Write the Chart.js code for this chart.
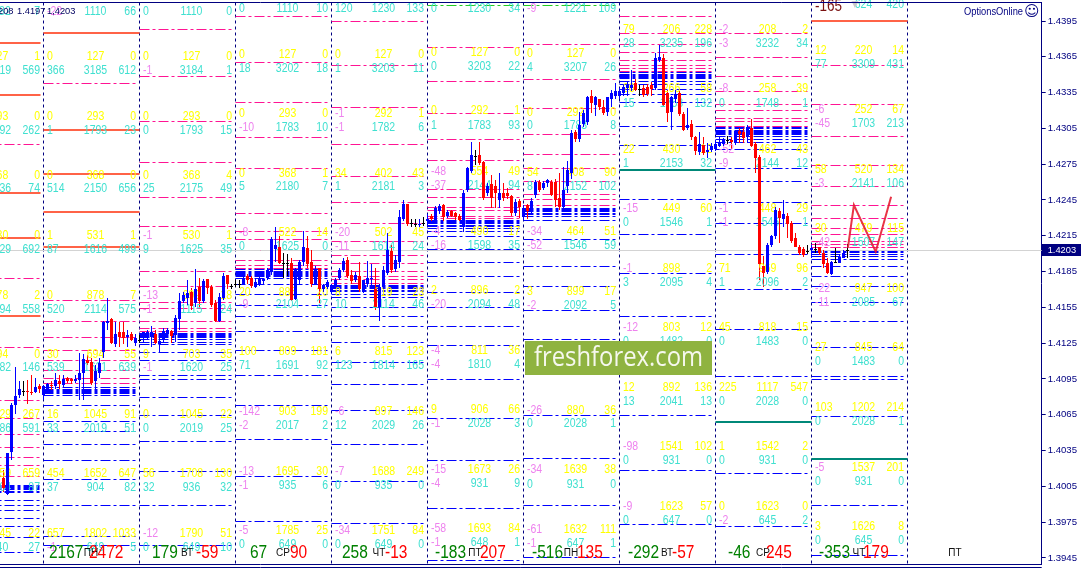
<!DOCTYPE html>
<html><head><meta charset="utf-8">
<style>html,body{margin:0;padding:0;background:#fff}canvas{display:block}</style>
<script src="https://cdn.jsdelivr.net/npm/chart.js@4/dist/chart.umd.min.js"></script>
</head><body><canvas id="c" width="1081" height="568"></canvas>
<script>
// ---------- DATA ----------
const tickPrices=[1.4395,1.4365,1.4335,1.4305,1.4275,1.4245,1.4215,1.4185,1.4155,1.4125,1.4095,1.4065,1.4035,1.4005,1.3975,1.3945];
const lastPrice=1.4203;
const firstCandleHour=-10;
const highs=[1.4019,1.4033,1.4075,1.4105,1.4093,1.4093,1.4094,1.4098,1.4096,1.4091,
1.4090,1.4092,1.4093,1.4100,1.4098,1.4098,1.4097,1.4096,1.4098,1.4117,1.4116,1.4115,1.4113,1.4107,1.4113,1.4144,1.4163,1.4146,1.4143,1.4143,1.4143,1.4136,1.4134,1.4133,
1.4132,1.4134,1.4136,1.4139,1.4136,1.4129,1.4138,1.4138,1.4136,1.4149,1.4167,1.4168,1.4178,1.4171,1.4187,1.4180,1.4179,1.4179,1.4174,1.4161,1.4167,1.4184,1.4182,1.4175,
1.4178,1.4178,1.4182,1.4183,1.4181,1.4180,1.4181,1.4180,1.4188,1.4214,1.4222,1.4215,1.4201,1.4200,1.4196,1.4188,1.4195,1.4219,1.4215,1.4203,1.4190,1.4188,1.4175,1.4178,
1.4175,1.4180,1.4188,1.4196,1.4197,1.4186,1.4185,1.4193,1.4178,1.4194,1.4191,1.4188,1.4175,1.4190,1.4217,1.4207,1.4199,1.4237,1.4245,1.4242,1.4229,1.4229,1.4229,1.4231,
1.4233,1.4233,1.4240,1.4242,1.4242,1.4237,1.4237,1.4235,1.4233,1.4253,1.4273,1.4294,1.4287,1.4294,1.4278,1.4259,1.4266,1.4262,1.4268,1.4259,1.4255,1.4249,1.4246,1.4246,
1.4241,1.4242,1.4247,1.4262,1.4262,1.4261,1.4263,1.4262,1.4263,1.4268,1.4273,1.4278,1.4304,1.4304,1.4319,1.4320,1.4332,1.4337,1.4332,1.4330,1.4329,1.4331,1.4337,1.4343,
1.4339,1.4341,1.4344,1.4354,1.4346,1.4341,1.4341,1.4342,1.4344,1.4368,1.4375,1.4367,1.4337,1.4332,1.4337,1.4336,1.4319,1.4322,1.4312,1.4299,1.4302,1.4298,1.4293,1.4293,
1.4295,1.4298,1.4297,1.4299,1.4298,1.4304,1.4305,1.4305,1.4308,1.4313,1.4294,1.4283,1.4198,1.4209,1.4216,1.4239,1.4238,1.4245,1.4234,1.4227,1.4217,1.4207,1.4206,1.4207,
1.4207,1.4209,1.4206,1.4203,1.4196,1.4194,1.4205,1.4199,1.4203,1.4208];
const lows=[1.4000,1.3998,1.4027,1.4066,1.4079,1.4081,1.4074,1.4082,1.4083,1.4083,
1.4077,1.4084,1.4086,1.4087,1.4087,1.4088,1.4092,1.4091,1.4092,1.4077,1.4077,1.4107,1.4090,1.4084,1.4096,1.4113,1.4136,1.4124,1.4122,1.4122,1.4124,1.4122,1.4127,1.4123,
1.4125,1.4126,1.4128,1.4122,1.4124,1.4118,1.4126,1.4131,1.4125,1.4126,1.4136,1.4159,1.4157,1.4153,1.4155,1.4155,1.4159,1.4166,1.4155,1.4143,1.4143,1.4161,1.4170,1.4170,
1.4172,1.4171,1.4174,1.4175,1.4171,1.4171,1.4173,1.4175,1.4178,1.4182,1.4193,1.4191,1.4180,1.4181,1.4160,1.4161,1.4174,1.4190,1.4188,1.4172,1.4174,1.4159,1.4168,1.4170,
1.4166,1.4170,1.4178,1.4185,1.4180,1.4175,1.4176,1.4168,1.4167,1.4172,1.4170,1.4153,1.4144,1.4170,1.4182,1.4184,1.4185,1.4188,1.4227,1.4223,1.4222,1.4222,1.4222,1.4223,
1.4223,1.4227,1.4227,1.4233,1.4227,1.4230,1.4231,1.4228,1.4227,1.4218,1.4252,1.4268,1.4274,1.4274,1.4245,1.4248,1.4238,1.4238,1.4238,1.4244,1.4246,1.4232,1.4232,1.4230,
1.4228,1.4229,1.4234,1.4247,1.4252,1.4253,1.4256,1.4248,1.4239,1.4237,1.4235,1.4251,1.4263,1.4294,1.4294,1.4306,1.4308,1.4318,1.4315,1.4320,1.4316,1.4315,1.4323,1.4330,
1.4330,1.4332,1.4332,1.4336,1.4336,1.4332,1.4331,1.4332,1.4332,1.4337,1.4361,1.4324,1.4310,1.4304,1.4326,1.4315,1.4303,1.4304,1.4295,1.4283,1.4283,1.4283,1.4280,1.4285,
1.4286,1.4289,1.4290,1.4292,1.4288,1.4291,1.4293,1.4293,1.4293,1.4289,1.4268,1.4178,1.4172,1.4183,1.4206,1.4212,1.4209,1.4222,1.4213,1.4209,1.4206,1.4199,1.4197,1.4200,
1.4196,1.4201,1.4199,1.4188,1.4183,1.4182,1.4192,1.4192,1.4196,1.4196];
const opens=[1.4012,1.3999,1.4034,1.4073,1.4082,1.4085,1.4085,1.4084,1.4084,1.4089,
1.4082,1.4087,1.4090,1.4089,1.4093,1.4090,1.4096,1.4095,1.4093,1.4094,1.4100,1.4111,1.4109,1.4093,1.4100,1.4118,1.4142,1.4145,1.4124,1.4134,1.4134,1.4130,1.4133,1.4125,
1.4128,1.4129,1.4130,1.4130,1.4133,1.4124,1.4128,1.4133,1.4135,1.4132,1.4145,1.4160,1.4163,1.4168,1.4159,1.4172,1.4160,1.4179,1.4172,1.4159,1.4144,1.4163,1.4182,1.4173,
1.4175,1.4175,1.4175,1.4181,1.4180,1.4172,1.4174,1.4177,1.4180,1.4185,1.4204,1.4206,1.4192,1.4192,1.4192,1.4162,1.4178,1.4193,1.4205,1.4193,1.4175,1.4188,1.4170,1.4172,
1.4168,1.4173,1.4180,1.4186,1.4195,1.4182,1.4178,1.4181,1.4168,1.4175,1.4179,1.4170,1.4155,1.4172,1.4184,1.4202,1.4187,1.4193,1.4229,1.4242,1.4226,1.4225,1.4224,1.4226,
1.4227,1.4232,1.4228,1.4236,1.4241,1.4232,1.4236,1.4234,1.4232,1.4222,1.4253,1.4269,1.4282,1.4283,1.4277,1.4251,1.4258,1.4257,1.4245,1.4251,1.4251,1.4248,1.4234,1.4244,
1.4231,1.4241,1.4237,1.4249,1.4260,1.4255,1.4259,1.4260,1.4260,1.4247,1.4239,1.4257,1.4268,1.4302,1.4296,1.4309,1.4310,1.4332,1.4325,1.4330,1.4323,1.4319,1.4330,1.4332,
1.4332,1.4335,1.4339,1.4339,1.4343,1.4338,1.4339,1.4340,1.4341,1.4339,1.4362,1.4364,1.4335,1.4319,1.4330,1.4335,1.4317,1.4305,1.4309,1.4298,1.4285,1.4291,1.4285,1.4287,
1.4288,1.4290,1.4292,1.4295,1.4295,1.4293,1.4303,1.4302,1.4298,1.4305,1.4292,1.4281,1.4190,1.4185,1.4207,1.4215,1.4236,1.4229,1.4232,1.4226,1.4213,1.4206,1.4204,1.4202,
1.4203,1.4204,1.4206,1.4201,1.4192,1.4183,1.4193,1.4192,1.4196,1.4203];
const closes=[1.4004,1.4033,1.4073,1.4081,1.4087,1.4085,1.4084,1.4083,1.4088,1.4087,
1.4089,1.4091,1.4089,1.4094,1.4091,1.4095,1.4093,1.4093,1.4095,1.4100,1.4112,1.4108,1.4092,1.4102,1.4108,1.4143,1.4144,1.4125,1.4133,1.4130,1.4129,1.4132,1.4128,1.4129,
1.4128,1.4134,1.4134,1.4134,1.4125,1.4127,1.4135,1.4136,1.4131,1.4146,1.4160,1.4165,1.4167,1.4156,1.4170,1.4160,1.4177,1.4171,1.4157,1.4144,1.4164,1.4181,1.4175,1.4173,
1.4175,1.4175,1.4180,1.4178,1.4173,1.4176,1.4180,1.4179,1.4186,1.4212,1.4207,1.4192,1.4192,1.4192,1.4161,1.4186,1.4193,1.4206,1.4191,1.4175,1.4186,1.4170,1.4174,1.4176,
1.4174,1.4178,1.4186,1.4194,1.4181,1.4177,1.4182,1.4170,1.4178,1.4180,1.4180,1.4155,1.4172,1.4186,1.4203,1.4186,1.4195,1.4231,1.4242,1.4225,1.4226,1.4225,1.4225,1.4226,
1.4229,1.4229,1.4238,1.4240,1.4231,1.4235,1.4232,1.4231,1.4228,1.4251,1.4272,1.4283,1.4282,1.4276,1.4247,1.4257,1.4247,1.4251,1.4251,1.4247,1.4248,1.4234,1.4243,1.4239,
1.4238,1.4236,1.4244,1.4260,1.4253,1.4259,1.4262,1.4249,1.4245,1.4239,1.4253,1.4270,1.4301,1.4296,1.4308,1.4318,1.4331,1.4326,1.4331,1.4323,1.4318,1.4331,1.4335,1.4336,
1.4336,1.4340,1.4341,1.4341,1.4337,1.4338,1.4333,1.4334,1.4338,1.4364,1.4365,1.4325,1.4318,1.4331,1.4334,1.4317,1.4304,1.4308,1.4298,1.4286,1.4292,1.4284,1.4287,1.4290,
1.4292,1.4294,1.4295,1.4295,1.4294,1.4303,1.4300,1.4297,1.4306,1.4290,1.4280,1.4191,1.4184,1.4207,1.4215,1.4237,1.4230,1.4233,1.4225,1.4211,1.4206,1.4201,1.4199,1.4202,
1.4205,1.4204,1.4201,1.4191,1.4184,1.4193,1.4193,1.4197,1.4201,1.4203];

const forecastHours=[201.1,202.6,208.05,211.9];
const forecastPrices=[1.42048,1.42408,1.42017,1.42478];

const dayStartHours=[-24,0,24,48,72,96,120,144,168,192];

const pinkLevels=[
[1.42911,1.41788,1.41210,1.40766,1.40615,1.40481,1.40372,1.40296,1.40221,1.40137],
[1.43430,1.41604,1.41428,1.41294,1.41185,1.41101,1.41025,1.40950,1.40916],
[1.43875,1.43481,1.43104,1.42768,1.42475,1.42232,1.42023,1.41847,1.41721,1.41595,1.41537,1.41428,1.41369,1.41344],
[1.43984,1.43606,1.43271,1.42970,1.42718,1.42333,1.42190,1.42115,1.42023,1.41947,1.41905,1.41880,1.41872],
[1.43950,1.43581,1.43229,1.42919,1.42651,1.42433,1.42249,1.42106,1.41989,1.41914,1.41847,1.41813,1.41780,1.41754],
[1.43732,1.43439,1.43179,1.42953,1.42785,1.42542,1.42467,1.42391,1.42358,1.42308,1.42291],
[1.43757,1.43456,1.43213,1.43003,1.42835,1.42710,1.42601,1.42500,1.42450,1.42408],
[1.43984,1.43849,1.43757,1.43682,1.43615,1.43581,1.43556,1.43531],
[1.43849,1.43648,1.43481,1.43363,1.43254,1.43196,1.43137,1.43104,1.43070,1.43062],
[1.43581,1.43254,1.42978,1.42743,1.42559,1.42408,1.42299,1.42207,1.42157,1.42106,1.42073,1.42056,1.42048]];
const blueLevels=[
[1.40060,1.40050,1.40040,1.40030,1.40020,1.40010,1.40000,1.39936,1.39894,1.39852,1.39777,1.39710,1.39618,1.39492],
[1.40875,1.40865,1.40855,1.40845,1.40835,1.40825,1.40815,1.40724,1.40598,1.40514,1.40397,1.40271,1.40104,1.39894,1.39634,1.39551],
[1.41335,1.41325,1.41315,1.41305,1.41295,1.41285,1.41260,1.41243,1.41168,1.41101,1.40983,1.40942,1.40799,1.40640,1.40430,1.40179,1.39894,1.39551],
[1.41865,1.41855,1.41845,1.41835,1.41825,1.41815,1.41805,1.41788,1.41746,1.41654,1.41570,1.41470,1.41344,1.41185,1.40983,1.40732,1.40447,1.40129,1.39760],
[1.41735,1.41725,1.41715,1.41705,1.41695,1.41685,1.41662,1.41637,1.41545,1.41470,1.41386,1.41260,1.41092,1.40908,1.40682,1.40397,1.40087,1.39735],
[1.42280,1.42270,1.42260,1.42250,1.42240,1.42230,1.42215,1.42182,1.42140,1.42039,1.41930,1.41813,1.41671,1.41545,1.41386,1.41227,1.40942,1.40623,1.40263,1.39861,1.39433],
[1.42380,1.42370,1.42360,1.42350,1.42340,1.42330,1.42308,1.42282,1.42123,1.41889,1.41729,1.41528,1.41285,1.40648,1.40280,1.39886,1.39458],
[1.43515,1.43505,1.43495,1.43485,1.43475,1.43465,1.43447,1.43414,1.43380,1.43330,1.43271,1.43062,1.42903,1.42458,1.42165,1.41838,1.41470,1.40640,1.40187,1.39727],
[1.43055,1.43045,1.43035,1.43025,1.43015,1.43005,1.42995,1.42985,1.42953,1.42928,1.42877,1.42718,1.42601,1.42433,1.42249,1.41997,1.41696,1.41361,1.40975,1.40162,1.39710],
[1.42030,1.42020,1.42010,1.41990,1.41975,1.41950,1.41889,1.41813,1.41729,1.41587,1.41428,1.41210,1.40975,1.40942,1.40632,1.39886,1.39467]];
const orangeLevels=[
[1.43766,1.43330,1.42509,1.42132,1.41478],
[1.43849,1.43037,1.42668,1.42350,1.42056],
[],[],[],[],[],[],[],
[1.43950]];
const tealLevels=[[],[],[],[],[],[],[],[1.42701],[1.40590],[1.40280]];
const greenLevels=[[],[],[],[],[],[1.44084],[1.44084],[],[],[]];

const rowsA=[1.44025,1.43648,1.43531,1.43146,1.43028,1.42651,1.42542,1.42148,1.42031,1.41646,1.41528,1.41151,1.41042,1.40648,1.40531,1.40154,1.40037,1.39651,1.39534];
const rowsB=[1.44051,1.43665,1.43548,1.43171,1.43053,1.42668,1.42559,1.42173,1.42056,1.41671,1.41570,1.41176,1.41059,1.40673,1.40556,1.40171,1.40053,1.39676,1.39559];
const rowsC=[1.44051,1.43682,1.43565,1.43196,1.43070,1.42685,1.42567,1.42182,1.42065,1.41687,1.41570,1.41185,1.41067,1.40690,1.40573,1.40187,1.40070,1.39693,1.39576];
const rowsD=[1.44051,1.43674,1.43556,1.43179,1.43070,1.42676,1.42559,1.42182,1.42065,1.41679,1.41562,1.41176,1.41067,1.40682,1.40573,1.40187,1.40062,1.39685,1.39567];
const rowsE=[1.43875,1.43757,1.43380,1.43254,1.42869,1.42752,1.42375,1.42257,1.41872,1.41754,1.41377,1.41260,1.40874,1.40757,1.40380,1.40263,1.39877,1.39760];
const rowsF=[1.44084,1.43699,1.43581,1.43204,1.43087,1.42701,1.42584,1.42207,1.42090,1.41704,1.41587,1.41210,1.41092,1.40707,1.40590,1.40204,1.40087,1.39710,1.39592];
const rowPriceByDay=[rowsA,rowsA,rowsA,rowsB,rowsB,rowsC,rowsD,rowsE,rowsE,rowsF];

const day0=[["","1182","7"],["0","127","1"],["","3219","569"],["0","293","0"],["","1792","262"],["0","368","0"],["","2136","74"],["","530","0"],["","1629","692"],["","878","2"],["","2094","558"],["","694","0"],["","1682","146"],["","1029","267"],["","1986","591"],["","1659","659"],["","1904","87"],["","1845","22"],["","640","27"]];
const day1=[["-22","1110","66"],["0","127","0"],["366","3185","612"],["0","293","0"],["1","1793","23"],["0","368","0"],["514","2150","656"],["1","531","1"],["87","1616","499"],["0","878","7"],["520","2114","575"],["30","694","55"],["539","1621","639"],["16","1045","91"],["33","2019","51"],["454","1652","647"],["37","904","82"],["657","1802","1033"],["-1","649","5"]];
const day2=[["0","1110","0"],["0","127","0"],["-1","3184","1"],["0","293","0"],["0","1793","15"],["0","368","4"],["25","2175","49"],["-1","530","1"],["9","1625","35"],["-13","899","18"],["-1","1115","24"],["9","703","35"],["-1","1620","25"],["0","1045","22"],["0","2019","25"],["56","1708","130"],["32","936","32"],["-12","1790","51"],["0","649","10"]];
const day3=[["0","1110","10"],["0","127","0"],["18","3202","18"],["0","293","0"],["-10","1783","10"],["0","368","1"],["5","2180","7"],["-8","522","14"],["0","1625","0"],["20","885","20"],["-9","2104","27"],["100","809","181"],["71","1691","92"],["-142","903","199"],["-2","2017","2"],["-13","1695","30"],["-1","935","6"],["-5","1785","25"],["0","649","0"]];
const day4=[["120","1230","133"],["0","127","0"],["1","3203","11"],["-1","292","1"],["-1","1782","6"],["34","402","43"],["1","2181","3"],["-20","502","45"],["-11","1614","24"],["8","819","23"],["10","2114","46"],["6","815","123"],["123","1814","165"],["-6","897","146"],["12","2029","26"],["-7","1688","249"],["0","935","0"],["-34","1751","84"],["0","649","0"]];
const day5=[["0","1230","34"],["0","127","0"],["0","3203","22"],["0","292","1"],["1","1783","93"],["-48","554","49"],["-37","2144","94"],["-4","490","17"],["-16","1598","35"],["2","896","2"],["-20","2094","48"],["-4","811","36"],["-4","1810","4"],["9","906","66"],["-1","2028","3"],["-15","1673","26"],["-4","931","9"],["-58","1693","84"],["-1","648","1"]];
const day6=[["-9","1221","109"],["0","127","0"],["4","3207","26"],["0","292","0"],["0","1783","8"],["54","408","90"],["8","2152","102"],["-34","464","51"],["-52","1546","59"],["3","899","17"],["-2","2092","5"],["","",""],["","",""],["-26","880","36"],["0","2028","1"],["-34","1639","38"],["0","931","0"],["-61","1632","111"],["-1","647","1"]];
const day7=[["79","206","228"],["28","3235","196"],["26","266","58"],["15","1753","132"],["22","430","12"],["1","2153","32"],["-15","449","60"],["0","1546","1"],["-1","898","2"],["3","2095","4"],["-12","803","12"],["0","1482","0"],["12","892","136"],["13","2041","13"],["-98","1541","102"],["0","931","0"],["-9","1623","57"],["0","647","0"]];
const day8=[["-2","208","2"],["-3","3232","34"],["-8","258","39"],["0","1748","1"],["-52","462","43"],["-9","2144","12"],["-1","448","29"],["-1","1546","1"],["71","969","96"],["1","2096","2"],["45","818","15"],["0","1483","0"],["225","1117","547"],["0","2028","0"],["1","1542","2"],["0","931","0"],["0","1623","0"],["-2","645","2"]];
const day9=[["","624","420"],["12","220","14"],["77","3309","431"],["-6","252","67"],["-45","1703","213"],["58","520","134"],["-3","2141","106"],["30","479","115"],["-42","1507","147"],["-22","947","100"],["-11","2085","67"],["27","845","64"],["0","1483","0"],["103","1202","214"],["0","2028","1"],["-5","1537","201"],["0","931","0"],["3","1626","8"],["0","645","0"]];
const dayRows=[day0,day1,day2,day3,day4,day5,day6,day7,day8,day9];

const dayGreen=["","2167","179","67","258","-183","-516","-292","-46","-353"];
const dayRed=["2384","2472","-59","90","-13","207","135","-57","245","179"];
const dayNames=["","ПН","ВТ","СР","ЧТ","ПТ","ПН","ВТ","СР","ЧТ","ПТ"];

// ---------- LAYOUT ----------
const PINK='#ff1493',BLUE='#0000ff',NAVY='#000080',ORANGE='#ff6347',TEAL='#008878',YEL='#ffff00',CY='#40e0d0',VIO='#ee82ee';
const FF='"Liberation Sans",Arial,sans-serif';
const greenOff=[0,5.5,12.5,14.5,10.5,7.5,8.5,8.5,12.5,7.5];
const redOff=[-6.5,45.5,56.5,54.5,53.5,52.5,53.5,52.5,50.5,51.5];
const pxPerHour=4, sep0=43.5, plotRight=1041.7;
const dash=[10,3,3,3];

function levelSegs(levels,span,firstEnd){
  const out=[];
  levels.forEach((arr,d)=>{
    const s=dayStartHours[d], e=d===0&&firstEnd!==undefined?firstEnd:s+span;
    arr.forEach(p=>{out.push({x:s,y:p},{x:e,y:p},{x:e,y:null});});
  });
  return out;
}
const lineDs=(data,color,width,d)=>({type:'line',data,borderColor:color,borderWidth:width,borderDash:d||[],pointRadius:0,spanGaps:false,tension:0,order:20,snap:true,fill:false});
const sepData=[];
for(let i=1;i<=10;i++){const h=(i-1)*24;sepData.push({x:h,y:1.3935},{x:h,y:1.4415},{x:h,y:null});}
const yMax=1.4395+19/11933.3, yMin=1.4395-543.7/11933.3;

const candleSet=(test,lo,hi,color,width,order,extra)=>Object.assign({
  type:'bar',grouped:false,backgroundColor:color,borderWidth:0,barThickness:width,inflateAmount:0,order,snapBar:true,
  data:opens.map((o,i)=>test(o,closes[i])?{x:firstCandleHour+i,y:[lo(i),hi(i)]}:null).filter(Boolean)
},extra||{});
const up=(o,c)=>c>o,dn=(o,c)=>c<o,eq=(o,c)=>c===o;
const wl=i=>lows[i],wh=i=>highs[i],bl=i=>Math.min(opens[i],closes[i]),bh=i=>Math.max(opens[i],closes[i]);

const datasets=[
  lineDs([{x:-11,y:lastPrice},{x:250,y:lastPrice}],'#d3d3d3',1),
  lineDs(levelSegs(pinkLevels,23.25),PINK,1,dash),
  lineDs(levelSegs(blueLevels,23.25),BLUE,1,dash),
  lineDs(levelSegs(greenLevels,23.25),'#22cc22',1,dash),
  lineDs(levelSegs(orangeLevels,24,-0.875),ORANGE,2),
  lineDs(levelSegs(tealLevels,24),TEAL,2),
  lineDs(sepData,NAVY,1,[3,3]),
  candleSet(up,wl,wh,BLUE,1,5,{textHook:true}),
  candleSet(dn,wl,wh,'#ff0000',1,5),
  candleSet(eq,wl,wh,'#000000',1,5),
  candleSet(up,bl,bh,BLUE,3,4),
  candleSet(dn,bl,bh,'#ff0000',3,4),
  candleSet(eq,bl,bh,'#000000',3,4),
  {type:'line',data:forecastHours.map((x,i)=>({x,y:forecastPrices[i]})),borderColor:'rgba(230,30,50,.9)',borderWidth:2,pointRadius:0,order:1,tension:0}
];

const snapPlugin={id:'snap',afterDatasetsUpdate(chart){
  chart.data.datasets.forEach((ds,i)=>{
    const m=chart.getDatasetMeta(i);
    if(ds.snap){
      const even=ds.borderWidth%2===0;
      m.data.forEach(p=>{
        p.y=even?Math.round(p.y):Math.round(p.y-.5)+.5;
        p.x=Math.round(p.x-.5)+.5;
      });
    }
    if(ds.snapBar){
      m.data.forEach(b=>{
        b.x=Math.round(b.x-.5)+.5;
        b.y=Math.round(b.y);b.base=Math.round(b.base);
        if(b.base===b.y)b.base=b.y+1;
      });
    }
  });
}};

// narrow, tall lettering as in the terminal font: draw at tallPx, squeezed to the width of widePx
function tallText(c,t,x,y,widePx,tallPx,family){
  if(!t)return;
  const fam=family||FF;
  c.font=widePx+'px '+fam;const w=c.measureText(t).width;
  c.font=tallPx+'px '+fam;c.fillText(t,x,y,w);
}
function drawTexts(chart){
  const c=chart.ctx,x=chart.scales.x,y=chart.scales.y,a=chart.chartArea;
  c.save();c.beginPath();c.rect(a.left,0,a.right-a.left,568);c.clip();
  c.textBaseline='middle';
  dayRows.forEach((rows,d)=>{
    const s=x.getPixelForValue(dayStartHours[d]);
    const prices=rowPriceByDay[d];
    rows.forEach((r,i)=>{
      const yel=(d===7||d===8)?i%2===0:i%2===1;
      const base=yel?YEL:CY, py=y.getPixelForValue(prices[i]);
      const col=t=>t.charAt(0)==='-'?VIO:base;
      c.textAlign='left';c.fillStyle=col(r[0]);tallText(c,r[0],s+3.5,py,10.5,12);
      c.textAlign='center';c.fillStyle=base;tallText(c,r[1],s+52,py,10.5,12);
      c.textAlign='right';c.fillStyle=col(r[2]);tallText(c,r[2],s+92.5,py,10.5,12);
    });
  });
  c.restore();
}
const textPlugin={id:'texts',beforeDatasetDraw(chart,args){
  if(chart.data.datasets[args.index].textHook)drawTexts(chart);
}};
const overlayPlugin={id:'overlay',afterDatasetsDraw(chart){
  const c=chart.ctx,x=chart.scales.x,y=chart.scales.y,a=chart.chartArea;
  c.save();c.beginPath();c.rect(a.left,0,a.right-a.left,568);c.clip();
  c.textBaseline='middle';
  const s9=x.getPixelForValue(dayStartHours[9]);
  c.textAlign='left';c.fillStyle='#7a1010';tallText(c,'-165',s9+3.5,7,13.5,16);
  c.fillStyle='#c8c8c8';c.font='9px "DejaVu Sans"';c.textAlign='center';c.fillText('▼',855,5);
  const by=553;
  dayNames.forEach((n,i)=>{
    const d=i, sp=i===10?912:x.getPixelForValue(dayStartHours[d]);
    c.textAlign='left';
    if(d<10&&dayGreen[d]){c.fillStyle='#008000';tallText(c,dayGreen[d],sp+greenOff[d],by,15.5,18);}
    if(n){c.textAlign='center';c.font='10px '+FF;c.fillStyle='#111';c.fillText(n,i===10?955:sp+47.5,by+.5);}
    if(d<10){c.textAlign='left';c.fillStyle='#ff0000';tallText(c,dayRed[d],sp+redOff[d],by,15.5,18);}
  });
  c.fillStyle='#8fb340';c.fillRect(525,341,187,34);
  c.fillStyle='#f6f8ee';c.font='28px "Open Sans"';c.textAlign='center';c.fillText('freshforex.com',618.5,358.5,169);
  c.textAlign='left';c.fillStyle='#000060';
  c.font='9.3px '+FF;
  c.fillText('208',-2,11);c.fillText('1.4197',17,11);c.fillText('1,4203',47,11);
  c.font='10.5px '+FF;c.fillStyle=NAVY;c.fillText('OptionsOnline',964,12.5,59);
  c.font='15px "DejaVu Sans"';c.fillText('☺',1024,12.5);
  c.restore();
  // frame
  c.save();c.strokeStyle=NAVY;c.lineWidth=1;c.beginPath();
  c.moveTo(0,2.5);c.lineTo(a.right,2.5);
  c.moveTo(0,564.5);c.lineTo(a.right,564.5);
  c.moveTo(0,567.5);c.lineTo(a.right,567.5);
  c.stroke();
  const py=Math.round(y.getPixelForValue(lastPrice));
  c.fillStyle=NAVY;c.fillRect(1042,py-6,39,12);
  c.fillStyle='#fff';c.font='9.3px '+FF;c.textAlign='left';c.textBaseline='middle';
  c.fillText(lastPrice.toFixed(4),1047.7,py+.5);
  c.restore();
}};

new Chart(document.getElementById('c'),{
  type:'bar',
  data:{datasets},
  plugins:[snapPlugin,textPlugin,overlayPlugin],
  options:{
    responsive:false,animation:false,devicePixelRatio:1,events:[],
    layout:{padding:{left:0,right:0,top:2,bottom:3.3}},
    plugins:{legend:{display:false},tooltip:{enabled:false},title:{display:false}},
    scales:{
      x:{type:'linear',display:false,offset:false,min:-sep0/pxPerHour,max:(plotRight-sep0)/pxPerHour,grid:{display:false}},
      y:{type:'linear',position:'right',min:yMin,max:yMax,
        grid:{display:true,drawOnChartArea:false,drawTicks:true,tickLength:4,color:NAVY,tickColor:NAVY},
        border:{display:true,color:NAVY,width:1},
        afterBuildTicks(s){s.ticks=tickPrices.map(v=>({value:v}));},
        afterFit(s){s.width=39.3;s.paddingTop=0;s.paddingBottom=0;},
        ticks:{autoSkip:false,maxRotation:0,padding:2,color:NAVY,font:{family:'Liberation Sans',size:9.6},callback:v=>Number(v).toFixed(4)}
      }
    }
  }
});
</script></body></html>
